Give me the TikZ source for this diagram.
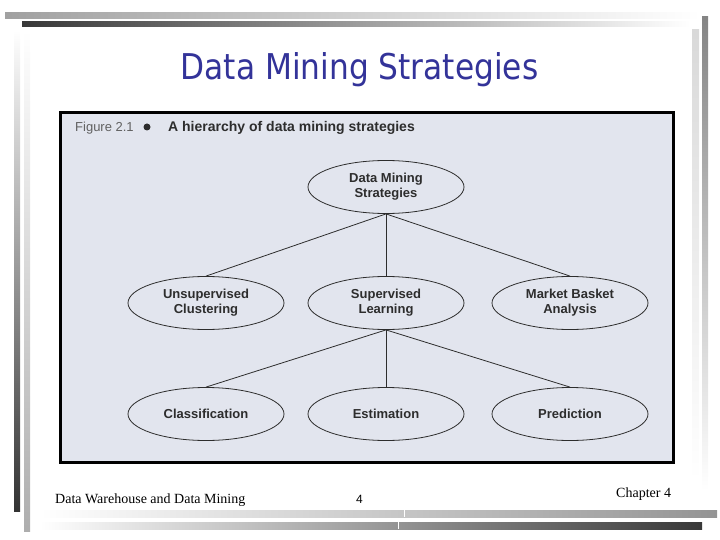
\documentclass[tikz,border=0pt]{standalone}
\usepackage{fontspec}
\setmainfont{Liberation Serif}
\newfontfamily\figfont{Liberation Sans}
\newfontfamily\titlefont[FakeStretch=0.88]{DejaVu Sans}
\usetikzlibrary{shapes.geometric}
\pgfdeclarelayer{backlayer}
\pgfdeclarelayer{edgelayer}
\pgfdeclarelayer{nodelayer}
\pgfsetlayers{backlayer,edgelayer,nodelayer,main}
\definecolor{slideblue}{RGB}{51,51,153}
\definecolor{scanpaper}{RGB}{226,229,238}
\definecolor{inkgray}{RGB}{45,45,45}
\tikzstyle{strategy}=[ellipse,draw=inkgray,line width=0.8pt,minimum width=156pt,minimum height=53pt,inner sep=0pt,align=center,text=inkgray,font=\figfont\bfseries\fontsize{13}{15}\selectfont]
\tikzstyle{branch}=[draw=inkgray,line width=0.8pt]
\tikzstyle{footer}=[inner sep=0pt,anchor=base west,font=\fontsize{14}{16}\selectfont]

\begin{document}
\begin{tikzpicture}[x=1pt,y=-1pt]
	\useasboundingbox (0,0) rectangle (720,540);
	% slide frame bars
	\shade [left color=black!37, middle color=black!22, right color=white] (5,13) rectangle (700,19);
	\shade [left color=black!78, middle color=black!33, right color=white] (22,22) rectangle (690,27);
	\shade [top color=white, middle color=black!30, bottom color=black!80] (14,30) rectangle (20,511);
	\shade [top color=white, middle color=black!14, bottom color=black!32] (24,30) rectangle (30,531);
	\shade [top color=black!15, bottom color=white] (692,30) rectangle (699,480);
	\shade [top color=black!48, middle color=black!22, bottom color=white] (702,17) rectangle (708,490);
	\shade [left color=white, middle color=black!18, right color=black!42] (40,510) rectangle (717,517);
	\shade [left color=white, middle color=black!26, right color=black!78] (40,522) rectangle (702,529);
	\draw [white, line width=1pt] (404,510) -- (404,517);
	\draw [white, line width=1pt] (398,522) -- (398,529);
	\begin{pgfonlayer}{backlayer}
		\draw [fill=scanpaper, line width=3pt] (60,113) rectangle (673,462);
	\end{pgfonlayer}
	\begin{pgfonlayer}{nodelayer}
		\node [inner sep=0pt, anchor=base, text=slideblue, font=\titlefont\fontsize{35.5}{40}\selectfont] (title) at (359.5,80) {Data Mining Strategies};
		\node [inner sep=0pt, anchor=base west, text=black!62, font=\figfont\fontsize{13}{15}\selectfont] (fig) at (75,132) {Figure 2.1};
		\node [circle, fill=inkgray, inner sep=0pt, minimum size=7pt] (dot) at (147,127) {};
		\node [inner sep=0pt, anchor=base west, text=inkgray, font=\figfont\bfseries\fontsize{14}{16}\selectfont] (caption) at (168,132) {A hierarchy of data mining strategies};
		\node [style=strategy] (0) at (386,187) {Data Mining\\Strategies};
		\node [style=strategy] (1) at (206,303) {Unsupervised\\Clustering};
		\node [style=strategy] (2) at (386,303) {Supervised\\Learning};
		\node [style=strategy] (3) at (570,303) {Market Basket\\Analysis};
		\node [style=strategy] (4) at (206,414) {Classification};
		\node [style=strategy] (5) at (386,414) {Estimation};
		\node [style=strategy] (6) at (570,414) {Prediction};
		\node [style=footer] (course) at (55,503) {Data Warehouse and Data Mining};
		\node [style=footer, font=\figfont\fontsize{12}{14}\selectfont] (page) at (356,503) {4};
		\node [style=footer] (chapter) at (616,497) {Chapter 4};
	\end{pgfonlayer}
	\begin{pgfonlayer}{edgelayer}
		\draw [style=branch] (0.south) to (1.north);
		\draw [style=branch] (0.south) to (2.north);
		\draw [style=branch] (0.south) to (3.north);
		\draw [style=branch] (2.south) to (4.north);
		\draw [style=branch] (2.south) to (5.north);
		\draw [style=branch] (2.south) to (6.north);
	\end{pgfonlayer}
\end{tikzpicture}
\end{document}
